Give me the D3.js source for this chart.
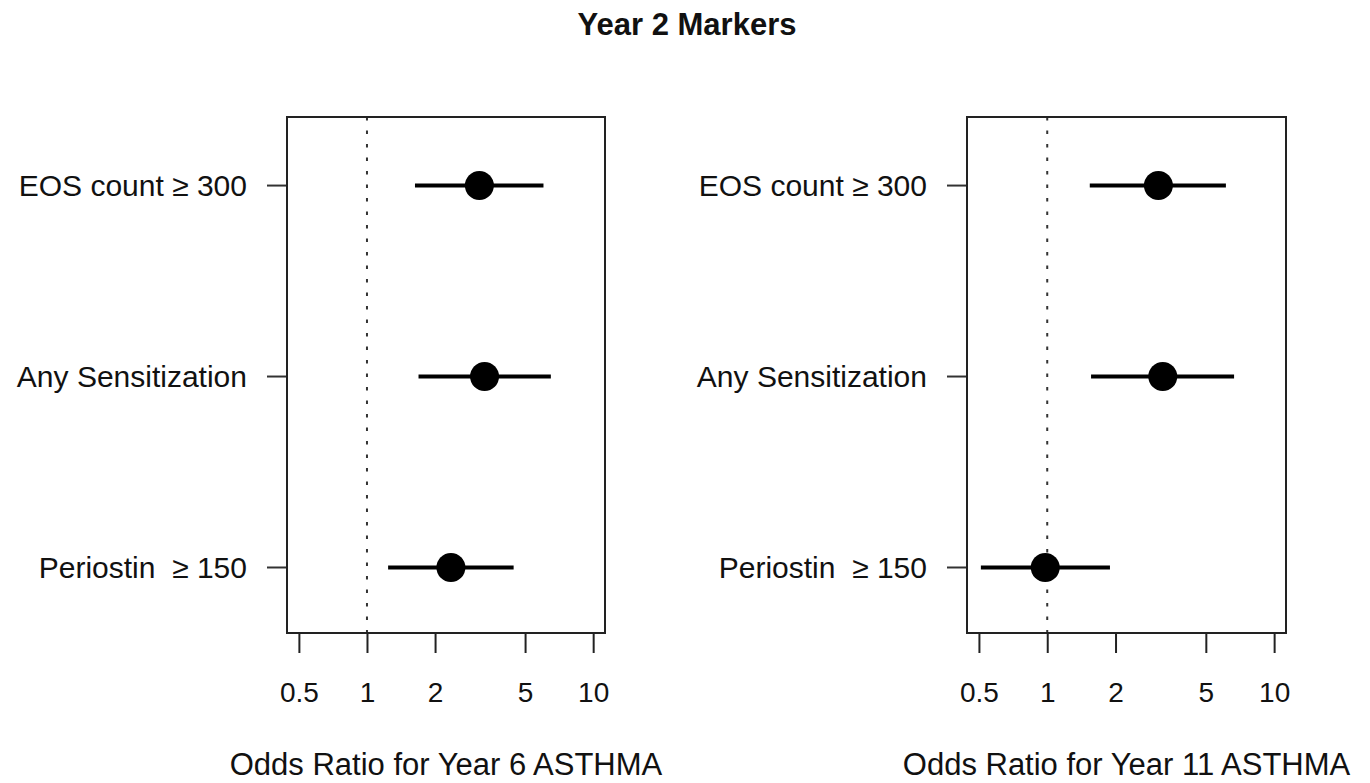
<!DOCTYPE html>
<html>
<head>
<meta charset="utf-8">
<script src="https://cdn.jsdelivr.net/npm/d3@7"></script>
<style>
    body { margin: 0; background: #fff; }
    svg text { font-family: "Liberation Sans", Arial, Helvetica, sans-serif; fill: #111; white-space: pre; }
</style>
</head>
<body>
<div id="chart"></div>
<script>
// markers, top to bottom
var markers = ["EOS count \u2265 300", "Any Sensitization", "Periostin  \u2265 150"];
var tickValues = [0.5, 1, 2, 5, 10];
var tickLabels = ["0.5", "1", "2", "5", "10"];

// year 6 asthma
var or6 = [3.14, 3.31, 2.35];
var lo6 = [1.63, 1.69, 1.24];
var hi6 = [6.03, 6.50, 4.45];

// year 11 asthma
var or11 = [3.09, 3.23, 0.98];
var lo11 = [1.54, 1.56, 0.51];
var hi11 = [6.13, 6.66, 1.89];

var panels = [
    {title: "Odds Ratio for Year 6 ASTHMA", or: or6, lo: lo6, hi: hi6, left: 287, right: 605},
    {title: "Odds Ratio for Year 11 ASTHMA", or: or11, lo: lo11, hi: hi11, left: 967, right: 1286}
];

var W = 1370, H = 783;
var boxTop = 117, boxBottom = 633;

var svg = d3.select("#chart").append("svg")
    .attr("width", W)
    .attr("height", H);

svg.append("text")
    .attr("x", 687)
    .attr("y", 35)
    .attr("text-anchor", "middle")
    .style("font-size", "31px")
    .style("font-weight", "bold")
    .text("Year 2 Markers");

// y position: EOS on top (3), Periostin bottom (1)
var y = d3.scaleLinear()
    .domain([0.657, 3.359])
    .range([boxBottom, boxTop]);

function rowY(i) { return y(markers.length - i); }

panels.forEach(function(p) {
    var x = d3.scaleLog()
        .domain([0.443, 11.28])
        .range([p.left, p.right]);

    var g = svg.append("g");

    // reference line at OR = 1
    g.append("line")
        .attr("x1", x(1)).attr("x2", x(1))
        .attr("y1", boxTop).attr("y2", boxBottom)
        .attr("stroke", "#333")
        .attr("stroke-width", 2)
        .attr("stroke-dasharray", "3.5,10");

    // x axis
    var xAxis = d3.axisBottom(x)
        .tickValues(tickValues)
        .tickSize(20)
        .tickFormat(function(d, i) { return tickLabels[i]; });
    var xa = g.append("g")
        .attr("transform", "translate(0," + boxBottom + ")")
        .call(xAxis);
    xa.select(".domain").remove();
    xa.selectAll("line").attr("stroke", "#222").attr("stroke-width", 2);
    xa.selectAll("text")
        .attr("y", 68.7)
        .attr("dy", null)
        .style("font-size", "28px")
        .attr("fill", "#111");

    // y axis
    var ya = g.append("g")
        .attr("transform", "translate(" + p.left + ",0)");
    ya.selectAll("line")
        .data(markers)
        .enter()
        .append("line")
        .attr("x1", -20).attr("x2", 0)
        .attr("y1", function(d, i) { return rowY(i); })
        .attr("y2", function(d, i) { return rowY(i); })
        .attr("stroke", "#333")
        .attr("stroke-width", 2);
    ya.selectAll("text")
        .data(markers)
        .enter()
        .append("text")
        .attr("x", -40)
        .attr("y", function(d, i) { return rowY(i) + 10.5; })
        .attr("text-anchor", "end")
        .style("font-size", "30px")
        .text(function(d) { return d; });

    // confidence intervals
    g.selectAll("line.ci")
        .data(p.or)
        .enter()
        .append("line")
        .attr("class", "ci")
        .attr("x1", function(d, i) { return x(p.lo[i]); })
        .attr("x2", function(d, i) { return x(p.hi[i]); })
        .attr("y1", function(d, i) { return rowY(i); })
        .attr("y2", function(d, i) { return rowY(i); })
        .attr("stroke", "#000")
        .attr("stroke-width", 4);

    g.selectAll("circle")
        .data(p.or)
        .enter()
        .append("circle")
        .attr("cx", function(d) { return x(d); })
        .attr("cy", function(d, i) { return rowY(i); })
        .attr("r", 14.5)
        .attr("fill", "#000");

    // box
    g.append("rect")
        .attr("x", p.left).attr("y", boxTop)
        .attr("width", p.right - p.left)
        .attr("height", boxBottom - boxTop)
        .attr("fill", "none")
        .attr("stroke", "#222")
        .attr("stroke-width", 2);

    g.append("text")
        .attr("x", (p.left + p.right) / 2)
        .attr("y", 775)
        .attr("text-anchor", "middle")
        .style("font-size", "31px")
        .text(p.title);
});
</script>
</body>
</html>
